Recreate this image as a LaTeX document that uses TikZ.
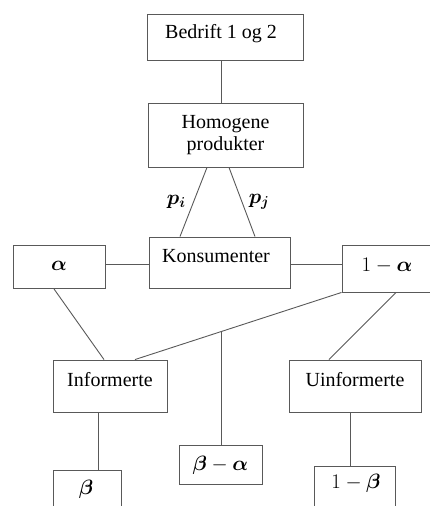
\documentclass[tikz,border=0pt]{standalone}
\usepackage{bm}
\usepackage{fontspec}
\setmainfont{Liberation Serif}
\begin{document}
\begin{tikzpicture}[x=1pt,y=-1pt,
  box/.style={draw=black!65, line width=0.9pt, rectangle, inner sep=0pt},
  lbl/.style={inner sep=0pt, font=\fontsize{20}{23}\selectfont, align=center},
  mlbl/.style={inner sep=0pt, font=\fontsize{21}{23}\selectfont},
  conn/.style={draw=black!65, line width=0.9pt}]
\useasboundingbox (0,0) rectangle (429,506);
% boxes
\node[box, minimum width=156, minimum height=46] (bed) at (225,37) {};
\node[lbl] at (221,34) {Bedrift 1 og 2};
\node[box, minimum width=155, minimum height=64] (hom) at (225.5,135) {};
\node[lbl] at (225.5,135) {Homogene\\[-1pt]produkter};
\node[box, minimum width=141, minimum height=51] (kons) at (219.5,262.5) {};
\node[lbl] at (216,256) {Konsumenter};
\node[box, minimum width=92, minimum height=43] (alpha) at (59,267) {};
\node[mlbl] at (59,266) {$\bm{\alpha}$};
\node[box, minimum width=88, minimum height=47] (oma) at (386,268.5) {};
\node[mlbl] at (387,266) {$1-\bm{\alpha}$};
\node[box, minimum width=114, minimum height=52] (inf) at (110,386) {};
\node[lbl] at (110,380) {Informerte};
\node[box, minimum width=132, minimum height=52] (uinf) at (355,386) {};
\node[lbl] at (355,380) {Uinformerte};
\node[box, minimum width=83, minimum height=39] (bma) at (220.5,464.5) {};
\node[mlbl] at (220.5,465) {$\bm{\beta}-\bm{\alpha}$};
\node[box, minimum width=68, minimum height=44] (beta) at (87,492) {};
\node[mlbl] at (86,489) {$\bm{\beta}$};
\node[box, minimum width=81, minimum height=46] (omb) at (354.5,489) {};
\node[mlbl] at (356,483) {$1-\bm{\beta}$};
% connectors
\draw[conn] (bed.south -| 221,0) -- (hom.north -| 221,0);
\draw[conn] (hom.south -| 207,0) -- (kons.north -| 180,0) node[midway, left=4pt, font=\fontsize{20}{22}\selectfont] {$\bm{p_i}$};
\draw[conn] (hom.south -| 229,0) -- (kons.north -| 255,0) node[midway, right=3pt, font=\fontsize{20}{22}\selectfont] {$\bm{p_j}$};
\draw[conn] (alpha.east |- 0,264) -- (kons.west |- 0,264);
\draw[conn] (kons.east |- 0,264) -- (oma.west |- 0,264);
\draw[conn] (alpha.south -| 54,0) -- (inf.north -| 104,0);
\draw[conn] (oma.south west) -- coordinate[pos=0.582] (mid) (inf.north -| 135,0);
\draw[conn] (mid) -- (bma.north -| mid);
\draw[conn] (oma.south -| 396,0) -- (uinf.north -| 329,0);
\draw[conn] (inf.south -| 98,0) -- (beta.north -| 98,0);
\draw[conn] (uinf.south -| 350,0) -- (omb.north -| 350,0);
\end{tikzpicture}
\end{document}
